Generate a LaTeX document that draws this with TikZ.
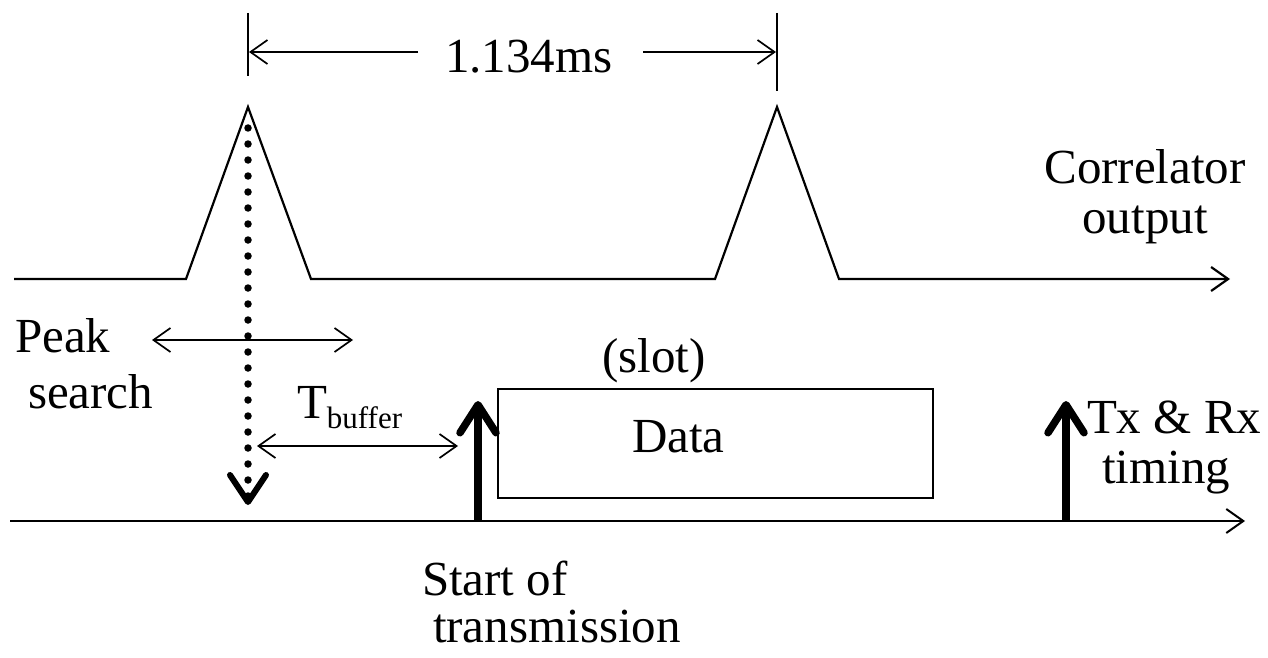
\documentclass[tikz,border=0pt]{standalone}
\usepackage{fontspec}
\setmainfont{Liberation Serif}
\usetikzlibrary{arrows.meta}
\begin{document}
\begin{tikzpicture}[x=1pt,y=-1pt,
  lbl/.style={inner sep=0pt, outer sep=0pt, anchor=base west, font=\fontsize{49}{56}\selectfont},
  clbl/.style={lbl, anchor=base},
  sig/.style={line width=2.2pt, line join=miter},
  dimline/.style={line width=1.7pt},
  barb/.tip={Straight Barb[length=17pt,width=24pt]},
  thickarrow/.style={line width=7.5pt, -{Straight Barb[length=28pt,width=36pt,round]}},
  dotarrow/.style={line width=7.5pt, line cap=round, dash pattern=on 0pt off 16pt,
    -{Straight Barb[length=27pt,width=36pt,line width=6pt,round]}}
]
\useasboundingbox (0,0) rectangle (1268,658);

% correlator output signal
\coordinate (s0) at (14,279);
\coordinate (a1) at (186,279);
\coordinate (p1) at (248,107);
\coordinate (b1) at (311,279);
\coordinate (a2) at (715,279);
\coordinate (p2) at (777,107);
\coordinate (b2) at (839,279);
\coordinate (send) at (1230,279);
\draw[sig, -barb] (s0) -- (a1) -- (p1) -- (b1) -- (a2) -- (p2) -- (b2) -- (send);

% dimension 1.134ms
\coordinate (t1a) at (248,13);
\coordinate (t1b) at (248,76);
\coordinate (t2a) at (777,13);
\coordinate (t2b) at (777,91);
\draw[dimline] (t1a) -- (t1b);
\draw[dimline] (t2a) -- (t2b);
\node[lbl] (dim) at (445,73) {1.134ms};
\coordinate (dl0) at (418,52);
\coordinate (dl1) at (249,52);
\coordinate (dr0) at (643,52);
\coordinate (dr1) at (776,52);
\draw[dimline, -barb] (dl0) -- (dl1);
\draw[dimline, -barb] (dr0) -- (dr1);

% peak search
\node[lbl] (peak) at (15,352) {Peak};
\node[lbl] (search) at (28,408) {search};
\coordinate (ps0) at (152,340);
\coordinate (ps1) at (353,340);
\draw[dimline, barb-barb] (ps0) -- (ps1);

% dotted arrow from peak
\coordinate (d0) at (248,128);
\coordinate (d1) at (248,505);
\draw[dotarrow] (d0) -- (d1);

% T buffer
\node[lbl] (tbuf) at (297,418) {T\raisebox{-10pt}{\fontsize{31}{31}\selectfont buffer}};
\coordinate (tb0) at (257,446);
\coordinate (tb1) at (458,446);
\draw[dimline, barb-barb] (tb0) -- (tb1);

% bottom axis
\coordinate (x0) at (10,521);
\coordinate (x1) at (1245,521);
\draw[line width=2pt, -barb] (x0) -- (x1);

% start of transmission arrow
\coordinate (st0) at (478,521);
\coordinate (st1) at (478,401);
\draw[thickarrow] (st0) -- (st1);
\node[lbl] (start) at (422,595) {Start of};
\node[lbl] (trans) at (433,642) {transmission};

% data box
\node[draw, line width=2pt, minimum width=435pt, minimum height=109pt, inner sep=0pt, anchor=north west] (box) at (497,388) {};
\node[lbl] (data) at (632,452) {Data};
\node[lbl] (slot) at (602,372) {(slot)};

% Tx & Rx timing
\coordinate (tx0) at (1066,521);
\coordinate (tx1) at (1066,401);
\draw[thickarrow] (tx0) -- (tx1);
\node[lbl] (txrx) at (1087,433) {Tx \& Rx};
\node[lbl] (timing) at (1102,483) {timing};

% correlator output label
\node[clbl] (corr) at (1145,183) {Correlator};
\node[clbl] (outp) at (1145,233) {output};
\end{tikzpicture}
\end{document}
